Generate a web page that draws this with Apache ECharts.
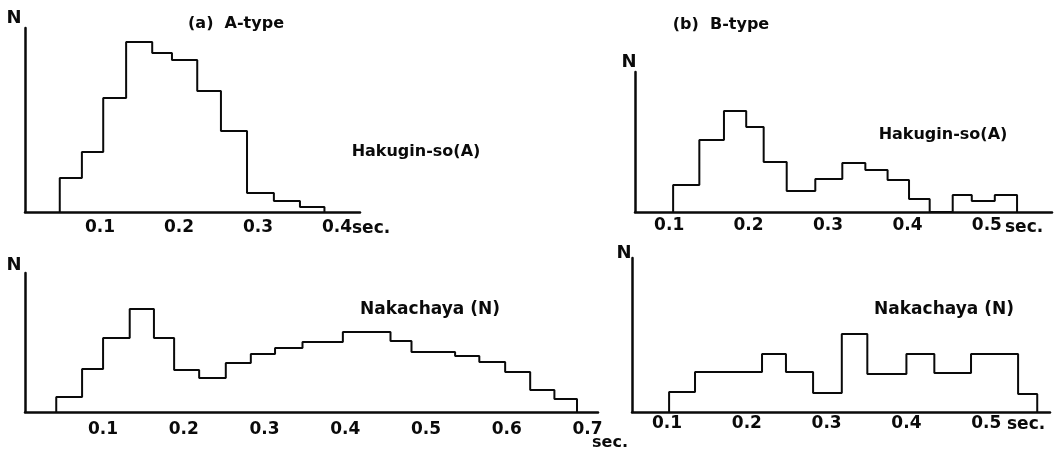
<!DOCTYPE html>
<html>
<head>
<meta charset="utf-8">
<script src="https://cdn.jsdelivr.net/npm/echarts@6/dist/echarts.min.js"></script>
<style>
html,body{margin:0;padding:0;background:#fff;}
#chart{width:1059px;height:451px;}
</style>
</head>
<body>
<div id="chart"></div>
<script>
// ---- Data (bin edges in sec, relative counts N) ----
// (a) A-type, Hakugin-so (A)
const aHakEdges  = [0.049, 0.077, 0.104, 0.133, 0.166, 0.191, 0.223, 0.253, 0.286, 0.320, 0.353, 0.384];
const aHakCounts = [34, 60, 114, 170, 159, 152, 121, 81, 19, 11, 5];
// (b) B-type, Hakugin-so (A)
const bHakEdges  = [0.105, 0.138, 0.169, 0.197, 0.219, 0.248, 0.284, 0.318, 0.347, 0.375, 0.402, 0.428, 0.457, 0.481, 0.510, 0.538];
const bHakCounts = [27, 72, 101, 85, 50, 21, 33, 49, 42, 32, 13, 0, 17, 11, 17];
// (a) A-type, Nakachaya (N)
const aNakEdges  = [0.042, 0.074, 0.100, 0.133, 0.163, 0.188, 0.219, 0.252, 0.283, 0.313, 0.347, 0.397, 0.456, 0.482, 0.536, 0.566, 0.598, 0.629, 0.659, 0.687];
const aNakCounts = [15, 43, 74, 103, 74, 42, 34, 49, 58, 64, 70, 80, 71, 60, 56, 50, 40, 22, 13];
// (b) B-type, Nakachaya (N)
const bNakEdges  = [0.1025, 0.135, 0.219, 0.249, 0.283, 0.319, 0.351, 0.400, 0.435, 0.481, 0.540, 0.564];
const bNakCounts = [20, 40, 58, 40, 19, 78, 38, 58, 39, 58, 18];

// tick labels
const ticksA1 = [0.1, 0.2, 0.3, 0.4];
const ticksB1 = [0.1, 0.2, 0.3, 0.4, 0.5];
const ticksA2 = [0.1, 0.2, 0.3, 0.4, 0.5, 0.6, 0.7];
const ticksB2 = [0.1, 0.2, 0.3, 0.4, 0.5];

function stepData(edges, counts) {
  const d = [[edges[0], 0]];
  for (let i = 0; i < counts.length; i++) d.push([edges[i], counts[i]]);
  d.push([edges[edges.length - 1], 0]);
  return d;
}

const FONT = '"DejaVu Sans", sans-serif';
const INK = '#0a0a0a';

function xAxisCfg(idx, min, max, ticks, margin) {
  return {
    type: 'value', gridIndex: idx, min: min, max: max,
    splitLine: {show: false},
    axisTick: {show: false},
    axisLine: {show: true, onZero: false, lineStyle: {color: INK, width: 2.5}},
    axisLabel: {
      show: true, customValues: ticks, margin: margin,
      color: INK, fontFamily: FONT, fontWeight: 'bold', fontSize: 17,
      formatter: v => v.toFixed(1)
    }
  };
}
function yAxisCfg(idx, max) {
  return {
    type: 'value', gridIndex: idx, min: 0, max: max,
    splitLine: {show: false}, axisTick: {show: false}, axisLabel: {show: false},
    axisLine: {show: true, onZero: false, lineStyle: {color: INK, width: 2.5}}
  };
}
function series(idx, edges, counts) {
  return {
    type: 'line', xAxisIndex: idx, yAxisIndex: idx, step: 'end',
    data: stepData(edges, counts), symbol: 'none', silent: true,
    lineStyle: {color: INK, width: 2}, animation: false
  };
}
function txt(x, y, s, align, size) {
  return {
    type: 'text', x: x, y: y, silent: true,
    style: {text: s, fill: INK, font: 'bold ' + (size || 15) + 'px ' + FONT,
            textAlign: align || 'center', textVerticalAlign: 'middle'}
  };
}

const chart = echarts.init(document.getElementById('chart'), null, {renderer: 'canvas'});
chart.setOption({
  backgroundColor: '#fff',
  animation: false,
  grid: [
    {left: 25, top: 28, width: 335, height: 184},
    {left: 635, top: 72, width: 417, height: 140},
    {left: 25, top: 273, width: 573, height: 139},
    {left: 632, top: 258, width: 418, height: 154}
  ],
  xAxis: [
    xAxisCfg(0, 0.005, 0.429, ticksA1, 7),
    xAxisCfg(1, 0.057, 0.582, ticksB1, 5),
    xAxisCfg(2, 0.0033, 0.713, ticksA2, 9),
    xAxisCfg(3, 0.056, 0.580, ticksB2, 3)
  ],
  yAxis: [yAxisCfg(0, 184), yAxisCfg(1, 140), yAxisCfg(2, 139), yAxisCfg(3, 154)],
  series: [
    series(0, aHakEdges, aHakCounts),
    series(1, bHakEdges, bHakCounts),
    series(2, aNakEdges, aNakCounts),
    series(3, bNakEdges, bNakCounts)
  ],
  graphic: [
    txt(236, 24, '(a)  A-type', 'center', 16),
    txt(721, 25, '(b)  B-type', 'center', 16),
    txt(416, 152, 'Hakugin-so(A)', 'center', 16),
    txt(943, 135, 'Hakugin-so(A)', 'center', 16),
    txt(430, 310, 'Nakachaya (N)', 'center', 17),
    txt(944, 310, 'Nakachaya (N)', 'center', 17),
    txt(14, 18, 'N', 'center', 18),
    txt(629, 62, 'N', 'center', 18),
    txt(14, 265, 'N', 'center', 18),
    txt(624, 253, 'N', 'center', 18),
    txt(352, 229, 'sec.', 'left', 17),
    txt(1005, 228, 'sec.', 'left', 17),
    txt(610, 443, 'sec.', 'center', 16),
    txt(1007, 425, 'sec.', 'left', 17)
  ]
});
</script>
</body>
</html>
